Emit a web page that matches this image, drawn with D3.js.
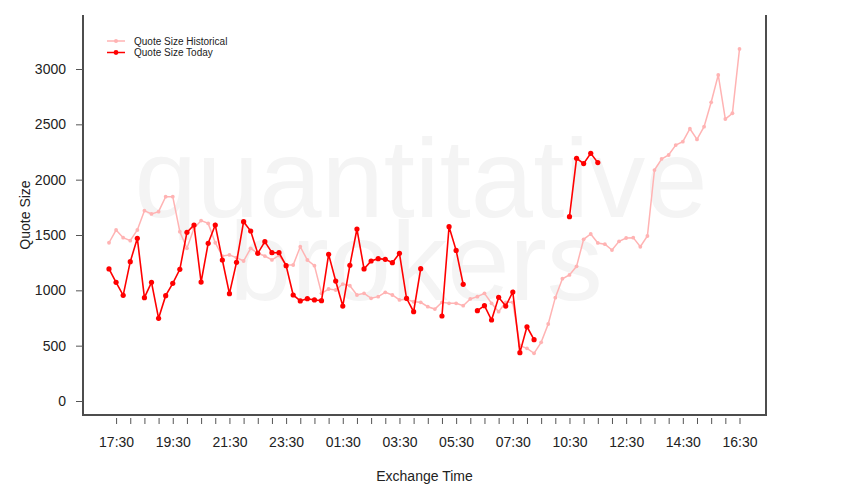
<!DOCTYPE html>
<html>
<head>
<meta charset="utf-8">
<script src="https://cdnjs.cloudflare.com/ajax/libs/d3/7.8.5/d3.min.js"></script>
<style>
body { margin: 0; background: #fff; }
text { font-family: "Liberation Sans", Arial, sans-serif; }
</style>
</head>
<body>
<script>
//exchange time of each 15 min bucket (market closed 08:15 - 09:30)
var times = [
    "17:15","17:30","17:45","18:00","18:15","18:30","18:45","19:00","19:15","19:30","19:45","20:00",
    "20:15","20:30","20:45","21:00","21:15","21:30","21:45","22:00","22:15","22:30","22:45","23:00",
    "23:15","23:30","23:45","00:00","00:15","00:30","00:45","01:00","01:15","01:30","01:45","02:00",
    "02:15","02:30","02:45","03:00","03:15","03:30","03:45","04:00","04:15","04:30","04:45","05:00",
    "05:15","05:30","05:45","06:00","06:15","06:30","06:45","07:00","07:15","07:30","07:45","08:00",
    "08:15","09:30","09:45","10:00","10:15","10:30","10:45","11:00","11:15","11:30","11:45","12:00",
    "12:15","12:30","12:45","13:00","13:15","13:30","13:45","14:00","14:15","14:30","14:45","15:00",
    "15:15","15:30","15:45","16:00","16:15","16:30"
];

var historical = [
    1430,1545,1476,1449,1545,1720,1690,1711,1846,1846,1530,1380,
    1560,1630,1605,1430,1310,1320,1295,1265,1380,1335,1310,1275,
    1315,1229,1229,1394,1274,1223,973,1012,1003,1057,1042,958,
    973,928,943,982,958,913,919,897,892,852,831,892,
    883,883,861,922,943,973,883,807,892,892,500,476,
    431,530,696,934,1105,1139,1217,1461,1509,1428,1417,1364,
    1443,1473,1476,1394,1491,2087,2187,2223,2313,2343,2460,2364,
    2479,2699,2946,2548,2600,3181
];

var today = [
    1193,1072,955,1259,1470,934,1072,747,952,1063,1190,1524,
    1590,1075,1425,1590,1274,970,1253,1620,1536,1334,1440,1340,
    1340,1223,958,904,925,913,907,1325,1084,858,1226,1554,
    1193,1265,1286,1280,1250,1334,928,807,1196,null,null,768,
    1575,1361,1054,null,816,861,732,937,858,985,437,671,
    554,null,null,null,null,1666,2193,2145,2238,2154,null,null,
    null,null,null,null,null,null,null,null,null,null,null,null,
    null,null,null,null,null,null
];

var timeLabels = ["17:30","19:30","21:30","23:30","01:30","03:30","05:30","07:30","10:30","12:30","14:30","16:30"];
var yTicks = [0, 500, 1000, 1500, 2000, 2500, 3000];
var seriesNames = ["Quote Size Historical", "Quote Size Today"];

var colorHist = "#ffb3b3";
var colorToday = "#ff0000";

var width = 850;
var height = 500;
var box = {left: 83, right: 766, top: 15, bottom: 415};

var svg = d3.select("body").append("svg")
    .attr("width", width)
    .attr("height", height);

//scales
var x = d3.scalePoint()
    .domain(times)
    .range([109, 739.5]);

var y = d3.scaleLinear()
    .domain([0, 3000])
    .range([401, 69]);

//watermark
var mark = svg.append("g")
    .attr("fill", "#f4f4f4")
    .style("font-size", "112px")
    .attr("text-anchor", "middle");
mark.append("text").attr("x", 421).attr("y", 217).text("quantitative");
mark.append("text").attr("x", 416).attr("y", 300).text("brokers");

//series
function drawSeries(values, color, lineWidth, radius){
    var pts = values.map(function(v, i){ return {t: times[i], v: v}; });

    var line = d3.line()
        .defined(function(d){ return d.v != null; })
        .x(function(d){ return x(d.t); })
        .y(function(d){ return y(d.v); });

    svg.append("path")
        .datum(pts)
        .attr("d", line)
        .attr("fill", "none")
        .attr("stroke", color)
        .attr("stroke-width", lineWidth);

    svg.append("g").selectAll("circle")
        .data(pts.filter(function(d){ return d.v != null; }))
        .enter()
        .append("circle")
        .attr("cx", function(d){ return x(d.t); })
        .attr("cy", function(d){ return y(d.v); })
        .attr("r", radius)
        .attr("fill", color);
}

drawSeries(historical, colorHist, 1.5, 1.9);
drawSeries(today, colorToday, 1.6, 2.6);

//box (no top side)
svg.append("path")
    .attr("d", "M" + box.left + "," + box.top + "V" + box.bottom + "H" + box.right + "V" + box.top)
    .attr("fill", "none")
    .attr("stroke", "#4d4d4d")
    .attr("stroke-width", 2);

//x axis: ticks every half hour, labels every 2 hours
var halfHours = times.filter(function(t){ return t.slice(3) == "00" || t.slice(3) == "30"; });

var xAxis = svg.append("g")
    .attr("transform", "translate(0," + 418 + ")")
    .call(d3.axisBottom(x)
        .tickValues(halfHours)
        .tickSize(6)
        .tickPadding(13)
        .tickFormat(function(d){ return timeLabels.indexOf(d) >= 0 ? d : ""; }));
xAxis.select(".domain").remove();

var yAxis = svg.append("g")
    .attr("transform", "translate(" + box.left + ",0)")
    .call(d3.axisLeft(y)
        .tickValues(yTicks)
        .tickSize(7)
        .tickPadding(10)
        .tickFormat(d3.format("d")));
yAxis.select(".domain").remove();

svg.selectAll(".tick line").attr("stroke", "#555");
svg.selectAll(".tick text")
    .attr("fill", "#222")
    .style("font-size", "14px")
    .style("font-family", "'Liberation Sans', Arial, sans-serif");

//axis titles
svg.append("text")
    .attr("x", (box.left + box.right) / 2)
    .attr("y", 481)
    .attr("text-anchor", "middle")
    .style("font-size", "14px")
    .attr("fill", "#222")
    .text("Exchange Time");

svg.append("text")
    .attr("transform", "translate(30," + ((box.top + box.bottom) / 2) + ") rotate(-90)")
    .attr("text-anchor", "middle")
    .style("font-size", "14px")
    .attr("fill", "#222")
    .text("Quote Size");

//legend
var legend = svg.append("g")
    .attr("transform", "translate(107,41)");

var legendItems = legend.selectAll(".legendItem")
    .data(seriesNames)
    .enter()
    .append("g")
    .attr("class", "legendItem")
    .attr("transform", function(d, i){ return "translate(0," + (i * 11.5) + ")"; });

legendItems.append("line")
    .attr("x1", 0).attr("x2", 18)
    .attr("stroke", function(d, i){ return i == 0 ? colorHist : colorToday; })
    .attr("stroke-width", 1.5);

legendItems.append("circle")
    .attr("cx", 9)
    .attr("r", function(d, i){ return i == 0 ? 2 : 2.4; })
    .attr("fill", function(d, i){ return i == 0 ? colorHist : colorToday; });

legendItems.append("text")
    .attr("x", 27)
    .attr("y", 3.5)
    .style("font-size", "10px")
    .attr("fill", "#222")
    .text(function(d){ return d; });
</script>
</body>
</html>
